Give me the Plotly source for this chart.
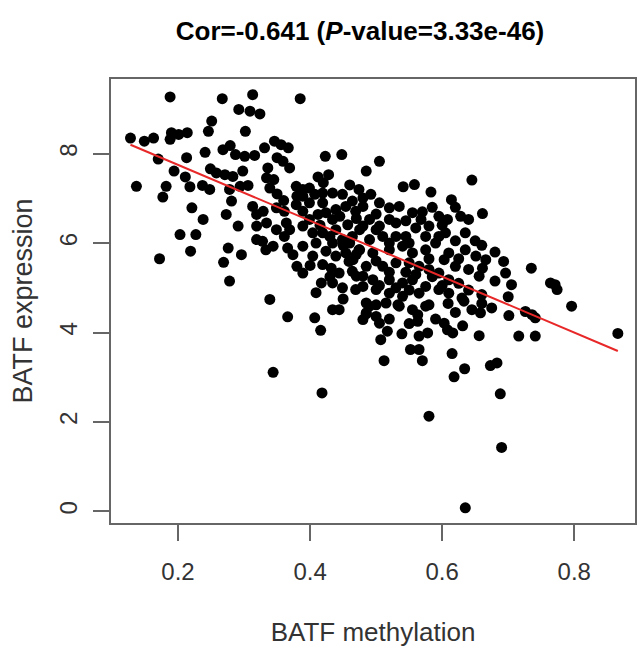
import plotly.graph_objects as go

# BATF methylation (x) and BATF expression (y)
pts = [
(0.188,9.27),(0.267,9.23),(0.313,9.32),(0.385,9.23),(0.292,8.99),(0.309,8.95),(0.324,8.89),
(0.251,8.73),(0.246,8.50),(0.302,8.50),(0.128,8.35),(0.149,8.28),(0.163,8.35),(0.190,8.47),
(0.188,8.32),(0.201,8.43),(0.214,8.47),(0.268,8.09),(0.279,8.18),(0.287,7.98),(0.301,7.94),
(0.316,7.96),(0.331,8.13),(0.346,8.28),(0.356,8.20),(0.367,8.13),(0.350,7.91),(0.359,7.83),
(0.369,7.68),(0.241,8.03),(0.213,7.91),(0.170,7.88),(0.423,7.94),(0.448,7.98),(0.485,7.61),
(0.137,7.27),(0.182,7.27),(0.177,7.03),(0.194,7.61),(0.211,7.48),(0.218,7.26),(0.237,7.29),
(0.249,7.66),(0.248,7.20),(0.258,7.57),(0.271,7.53),(0.283,7.49),(0.298,7.61),(0.294,7.27),
(0.278,7.20),(0.306,7.29),(0.336,7.68),(0.334,7.46),(0.339,7.23),(0.345,7.42),(0.412,7.48),
(0.428,7.53),(0.379,7.27),(0.389,7.20),(0.399,7.23),(0.407,7.09),(0.419,7.12),(0.434,7.12),
(0.449,7.09),(0.474,7.20),(0.480,7.01),(0.221,6.79),(0.238,6.53),(0.281,6.94),(0.273,6.64),
(0.291,6.38),(0.313,6.82),(0.319,6.64),(0.329,6.71),(0.334,6.45),(0.349,6.79),(0.361,6.71),
(0.364,6.45),(0.379,6.86),(0.389,6.71),(0.399,6.90),(0.399,6.53),(0.412,6.64),(0.424,6.68),
(0.434,6.53),(0.404,6.23),(0.419,6.23),(0.439,6.30),(0.457,6.41),(0.469,6.71),(0.464,6.94),
(0.480,6.38),(0.203,6.19),(0.227,6.19),(0.219,5.82),(0.172,5.65),(0.276,5.89),(0.296,5.74),
(0.269,5.57),(0.278,5.15),(0.328,6.04),(0.333,5.85),(0.361,6.15),(0.366,5.89),(0.374,5.74),
(0.380,5.48),(0.424,5.82),(0.439,5.71),(0.454,5.78),(0.474,5.85),(0.444,5.33),(0.464,5.37),
(0.480,5.26),(0.417,5.11),(0.409,4.89),(0.449,5.00),(0.469,4.96),(0.339,4.74),(0.366,4.35),
(0.407,4.33),(0.434,4.51),(0.444,4.51),(0.485,4.66),(0.485,4.44),
(0.389,7.05),(0.419,6.90),(0.454,6.82),(0.439,6.75),(0.389,6.38),(0.449,6.08),(0.464,6.15),
(0.409,6.00),(0.434,6.00),(0.389,5.93),(0.404,5.71),(0.419,5.52),(0.459,5.59),(0.432,5.44),
(0.349,6.30),(0.369,6.30),(0.319,6.38),(0.344,5.93),(0.319,6.08),(0.434,5.11),(0.389,5.33),
(0.416,4.05),(0.344,3.11),(0.418,2.65),
(0.500,4.62),(0.485,4.42),(0.500,4.36),(0.505,4.21),(0.517,4.03),(0.507,3.84),(0.533,4.62),
(0.539,3.97),(0.555,4.51),(0.563,4.40),(0.563,4.25),(0.565,3.92),(0.578,3.99),(0.580,4.62),
(0.552,3.62),(0.565,3.62),(0.570,3.37),(0.512,3.37),(0.609,4.65),(0.603,4.21),(0.608,4.06),
(0.616,3.99),(0.631,4.15),(0.633,4.70),(0.645,4.51),(0.658,4.44),(0.656,3.93),(0.615,3.53),
(0.618,3.01),(0.634,3.19),(0.673,3.26),(0.683,3.32),(0.688,2.63),(0.580,2.13),(0.690,1.43),
(0.635,0.08),(0.701,4.38),(0.716,3.92),(0.726,4.47),(0.736,4.40),(0.741,4.33),(0.741,3.92),
(0.796,4.59),(0.866,3.98),
(0.505,7.83),(0.541,7.26),(0.558,7.31),(0.583,7.14),(0.614,6.97),(0.645,7.41),(0.661,6.66),
(0.492,7.09),(0.480,6.82),(0.505,6.90),(0.520,6.79),(0.535,6.82),(0.520,6.53),(0.505,6.38),
(0.490,6.53),(0.475,6.30),(0.555,6.68),(0.568,6.53),(0.560,6.34),(0.580,6.38),(0.595,6.60),
(0.608,6.53),(0.628,6.60),(0.640,6.53),(0.635,6.23),(0.605,6.23),(0.595,6.15),(0.545,6.15),
(0.530,6.15),(0.510,6.15),(0.490,6.08),(0.460,6.00),(0.475,5.85),(0.495,5.78),(0.520,5.85),
(0.540,5.93),(0.555,5.78),(0.575,5.85),(0.590,6.00),(0.610,5.78),(0.635,5.85),(0.651,5.71),
(0.666,5.63),(0.693,5.59),(0.696,5.33),(0.705,5.07),(0.735,5.44),(0.764,5.11),(0.771,5.07),
(0.774,4.96),(0.630,4.77),(0.603,5.63),(0.620,5.48),(0.640,5.41),(0.661,5.44),(0.656,5.26),
(0.610,5.18),(0.595,5.33),(0.580,5.41),(0.565,5.48),(0.550,5.56),(0.530,5.56),(0.510,5.48),
(0.485,5.48),(0.465,5.63),(0.470,5.26),(0.495,5.18),(0.520,5.18),(0.540,5.11),(0.555,5.18),
(0.575,5.03),(0.595,4.96),(0.610,4.88),(0.565,4.88),(0.540,4.81),(0.520,4.88),(0.500,4.96),
(0.480,5.03),(0.490,4.59),(0.515,4.66),(0.535,4.59),(0.575,4.59),(0.480,4.29),(0.575,6.15),
(0.470,6.55),(0.500,6.65),(0.530,6.45),(0.550,6.00),(0.570,6.70),(0.600,6.40),(0.620,6.05),
(0.650,6.05),(0.660,5.95),(0.680,5.80),(0.500,5.60),(0.520,5.35),(0.545,5.35),(0.560,5.30),
(0.585,5.25),(0.600,5.05),(0.625,5.10),(0.640,4.95),(0.660,4.85),(0.680,5.15),(0.700,4.80),
(0.550,4.95),(0.530,5.00),(0.505,5.05),(0.470,5.75),(0.450,5.95),(0.430,6.15),(0.415,6.40),
(0.445,6.60),(0.460,7.30),(0.420,7.35),(0.380,7.05),(0.360,6.95),(0.350,7.10),(0.400,5.50),
(0.430,5.25),(0.450,4.75),(0.520,4.30),(0.550,4.20),(0.590,4.30),(0.620,4.45),(0.660,4.65),
(0.675,4.55),(0.625,5.65),(0.580,5.65),(0.520,6.00),(0.500,6.30),(0.545,6.50),(0.585,6.80),
(0.620,6.80),
]
x_meth = [p[0] for p in pts]
y_expr = [p[1] for p in pts]

# fitted regression line
fit_intercept = 9.0
fit_slope = -6.25

x_ticks = [0.2, 0.4, 0.6, 0.8]
y_ticks = [0, 2, 4, 6, 8]

title_text = "Cor=-0.641 (<i>P</i>-value=3.33e-46)"

fx = [min(x_meth), max(x_meth)]
fy = [fit_intercept + fit_slope * v for v in fx]

fig = go.Figure()
fig.add_trace(go.Scatter(x=x_meth, y=y_expr, mode="markers",
                         marker=dict(color="black", size=11, line=dict(width=0)),
                         showlegend=False, hoverinfo="x+y"))
fig.add_trace(go.Scatter(x=fx, y=fy, mode="lines",
                         line=dict(color="rgb(232,40,40)", width=2),
                         showlegend=False))

font_family = "Liberation Sans, Arial, sans-serif"
fig.update_layout(
    width=638, height=653,
    margin=dict(l=111, r=1, t=79, b=130),
    paper_bgcolor="white", plot_bgcolor="white",
    font=dict(family=font_family, color="#222"),
    title=dict(text="<b>" + title_text + "</b>", x=360/638, xref="container",
               xanchor="center", y=1 - 30.5/653, yanchor="middle",
               font=dict(size=26, color="black", family=font_family)),
)
fig.update_xaxes(range=[0.0985, 0.892], tickvals=x_ticks, ticktext=[str(v) for v in x_ticks],
                 showgrid=False, zeroline=False, showline=True, mirror=True,
                 linecolor="#666", linewidth=1.5, ticks="outside", ticklen=16,
                 tickcolor="#666", tickwidth=1.5, ticklabelstandoff=10,
                 tickfont=dict(size=24, color="#333"),
                 title=dict(text="BATF methylation", font=dict(size=26, color="#333"), standoff=39))
fig.update_yaxes(range=[-0.26, 9.67], tickvals=y_ticks, ticktext=[str(v) for v in y_ticks],
                 showgrid=False, zeroline=False, showline=True, mirror=True,
                 linecolor="#666", linewidth=1.5, ticks="outside", ticklen=16,
                 tickcolor="#666", tickwidth=1.5, tickangle=-90, ticklabelstandoff=7,
                 tickfont=dict(size=24, color="#333"),
                 title=dict(text="BATF expression", font=dict(size=27, color="#333"), standoff=14))

fig.write_html("out.html")
